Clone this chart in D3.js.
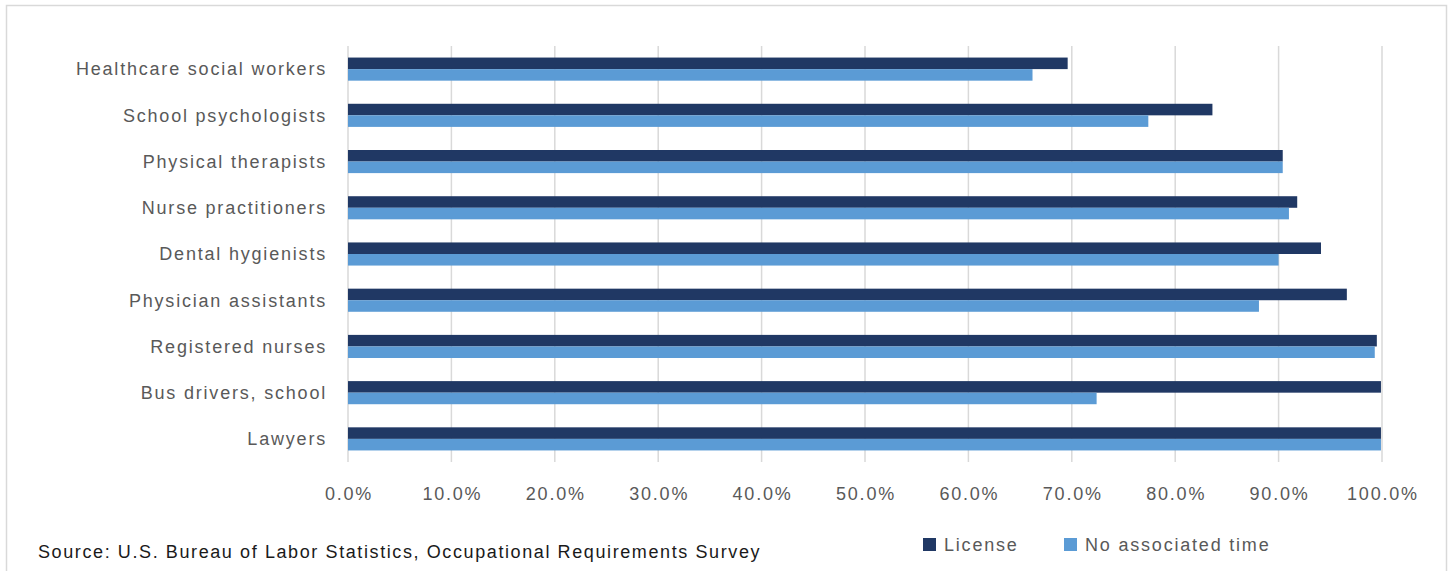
<!DOCTYPE html>
<html>
<head>
<meta charset="utf-8">
<script src="https://cdn.jsdelivr.net/npm/d3@7"></script>
<style>
  body { margin: 0; background: #fff; }
  svg text { font-family: "Liberation Sans", Arial, sans-serif; letter-spacing: 1.8px; }
</style>
</head>
<body>
<svg id="chart" width="1450" height="571"></svg>
<script>
// data
const categories = ["Healthcare social workers", "School psychologists", "Physical therapists",
  "Nurse practitioners", "Dental hygienists", "Physician assistants", "Registered nurses",
  "Bus drivers, school", "Lawyers"];
const license = [69.6, 83.6, 90.4, 91.8, 94.1, 96.6, 99.5, 99.9, 99.9];
const noTime = [66.2, 77.4, 90.4, 91.0, 90.0, 88.1, 99.3, 72.4, 99.9];
const seriesNames = ["License", "No associated time"];
const ticks = [0, 10, 20, 30, 40, 50, 60, 70, 80, 90, 100];

const colors = ["#203864", "#5b9bd5"];
const svg = d3.select("#chart");

// outer frame
svg.append("rect")
  .attr("x", 6.5).attr("y", 5.5)
  .attr("width", 1440).attr("height", 600)
  .attr("fill", "none").attr("stroke", "#d9d9d9").attr("stroke-width", 1.5);

const plotLeft = 348, plotRight = 1382, plotTop = 46, plotBottom = 462;

const x = d3.scaleLinear().domain([0, 100]).range([plotLeft, plotRight]);
const y = d3.scaleBand().domain(categories).range([plotTop, plotBottom])
  .paddingInner(0.5).paddingOuter(0.25);
const ySub = d3.scaleBand().domain([0, 1]).range([0, y.bandwidth()]);

// gridlines
svg.append("g").selectAll("line")
  .data(ticks).enter().append("line")
  .attr("x1", d => x(d)).attr("x2", d => x(d))
  .attr("y1", plotTop).attr("y2", plotBottom)
  .attr("stroke", "#d9d9d9").attr("stroke-width", 1.5);

// x tick labels
svg.append("g").selectAll("text")
  .data(ticks).enter().append("text")
  .attr("x", d => x(d) + 1).attr("y", 500)
  .attr("text-anchor", "middle")
  .attr("font-size", "18px").attr("fill", "#595959")
  .text(d => d.toFixed(1) + "%");

// bars
const series = [license, noTime];
series.forEach(function(vals, s) {
  svg.append("g").selectAll("rect")
    .data(vals).enter().append("rect")
    .attr("x", x(0))
    .attr("y", (d, i) => y(categories[i]) + ySub(s))
    .attr("width", d => x(d) - x(0))
    .attr("height", ySub.bandwidth())
    .attr("fill", colors[s]);
});

// category labels
svg.append("g").selectAll("text")
  .data(categories).enter().append("text")
  .attr("x", plotLeft - 21)
  .attr("y", d => y(d) + y.bandwidth() / 2)
  .attr("dy", "0.35em")
  .attr("text-anchor", "end")
  .attr("font-size", "18px").attr("fill", "#595959")
  .text(d => d);

// source note
svg.append("text")
  .attr("x", 38).attr("y", 558)
  .attr("font-size", "18px").attr("fill", "#1a1a1a")
  .style("letter-spacing", "1.6px")
  .text("Source: U.S. Bureau of Labor Statistics, Occupational Requirements Survey");

// legend
const legendX = [923, 1064];
seriesNames.forEach(function(name, i) {
  svg.append("rect")
    .attr("x", legendX[i]).attr("y", 538)
    .attr("width", 13).attr("height", 13)
    .attr("fill", colors[i]);
  svg.append("text")
    .attr("x", legendX[i] + 21).attr("y", 551)
    .attr("font-size", "18px").attr("fill", "#595959")
    .text(name);
});
</script>
</body>
</html>
